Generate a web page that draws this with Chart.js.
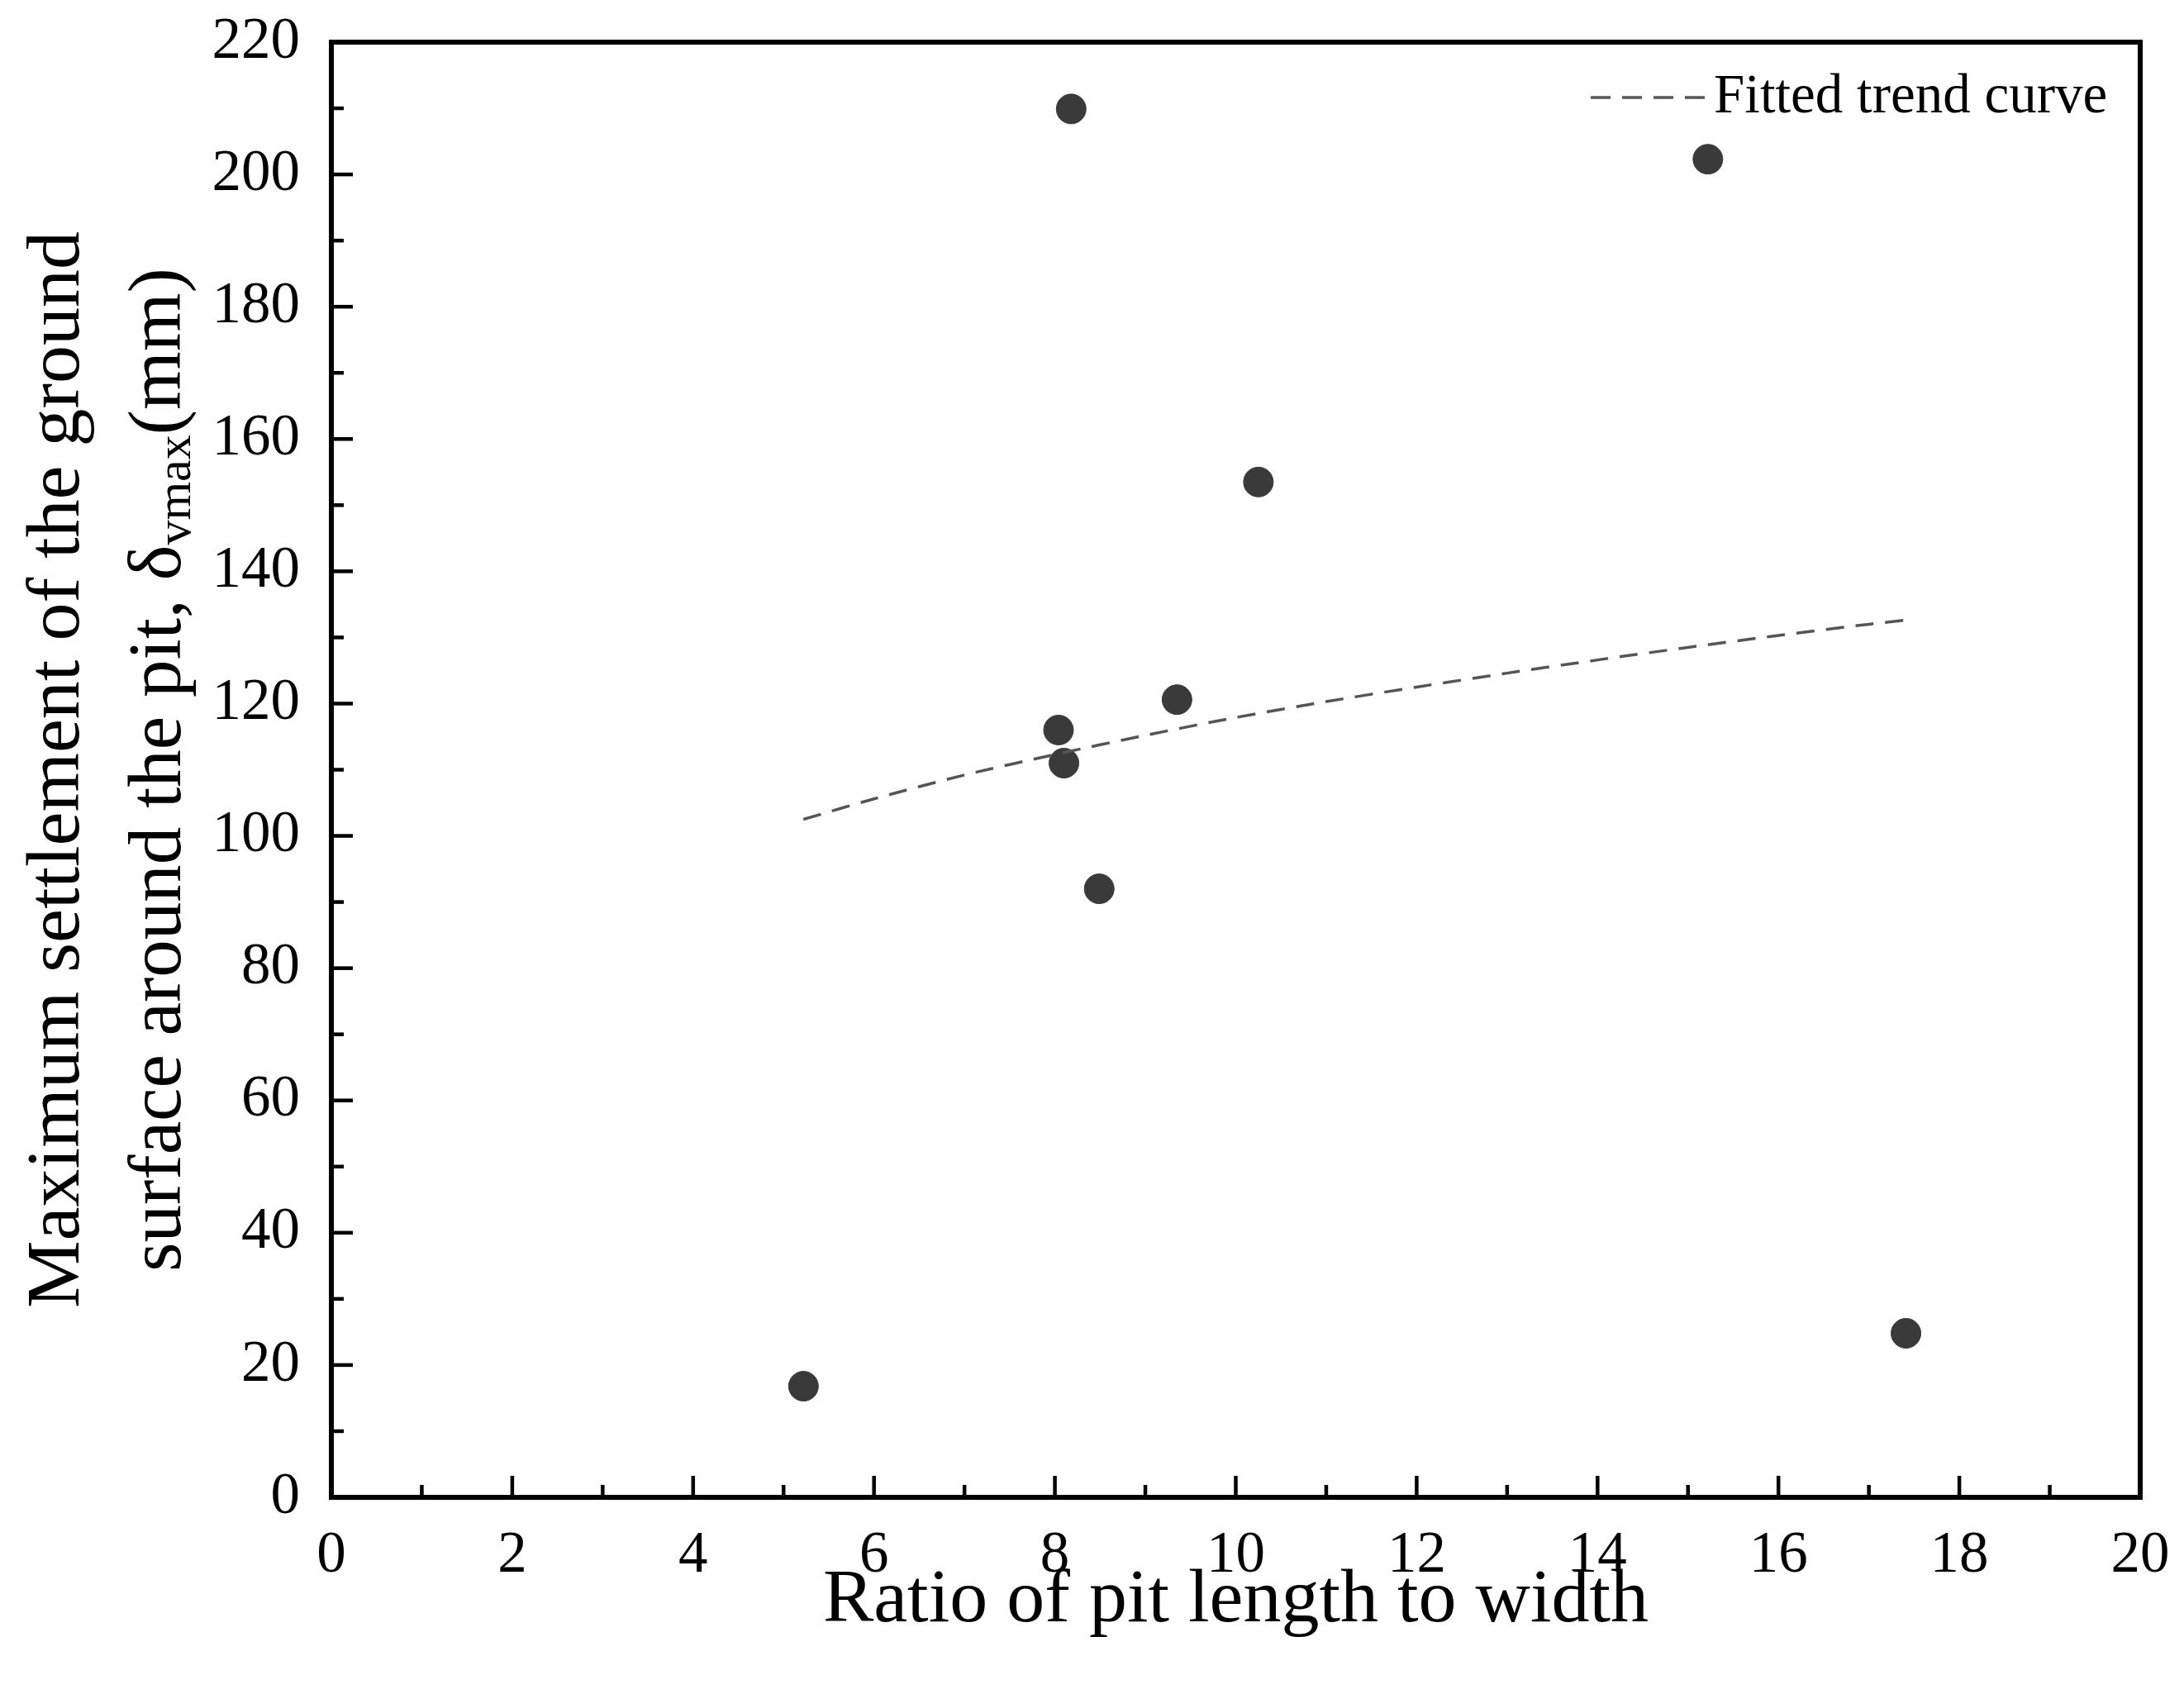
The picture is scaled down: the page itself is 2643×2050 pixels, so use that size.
<!DOCTYPE html>
<html><head><meta charset="utf-8">
<script src="https://cdn.jsdelivr.net/npm/chart.js@4"></script>
<style>html,body{margin:0;padding:0;background:#fff}</style>
</head><body>
<canvas id="c" width="2643" height="2050"></canvas>
<script>
const ratioX = [5.22, 8.18, 15.22, 10.25, 9.35, 8.04, 8.10, 8.49, 17.41];
const settlementY = [16.8, 209.9, 202.3, 153.5, 120.6, 116.0, 111.0, 92.0, 24.8];
const trendX = [5.22, 6, 7, 8, 9, 10, 11, 12, 13, 14, 15, 16, 17, 17.4];
const trendY = [102.5, 105.6, 109.2, 112.3, 115.2, 117.9, 120.3, 122.5, 124.6, 126.6, 128.5, 130.3, 132.0, 132.6];
const xTicks = [0, 2, 4, 6, 8, 10, 12, 14, 16, 18, 20];
const yTicks = [0, 20, 40, 60, 80, 100, 120, 140, 160, 180, 200, 220];
const FONT = '"Liberation Serif", "Times New Roman", serif';
const L = 401, R = 2590, T = 51, B = 1812, W = 2643, H = 2050;

const deco = {
  id: 'deco',
  afterDraw(chart) {
    const ctx = chart.ctx, a = chart.chartArea, xs = chart.scales.x, ys = chart.scales.y;
    ctx.save();
    ctx.strokeStyle = '#000'; ctx.lineWidth = 6;
    ctx.strokeRect(a.left, a.top, a.right - a.left, a.bottom - a.top);
    ctx.lineWidth = 4.5;
    for (let v = 1; v < 20; v++) {
      const p = xs.getPixelForValue(v), len = v % 2 === 0 ? 26 : 15;
      ctx.beginPath(); ctx.moveTo(p, a.bottom); ctx.lineTo(p, a.bottom - len); ctx.stroke();
    }
    for (let v = 10; v < 220; v += 10) {
      const p = ys.getPixelForValue(v), len = v % 20 === 0 ? 26 : 15;
      ctx.beginPath(); ctx.moveTo(a.left, p); ctx.lineTo(a.left + len, p); ctx.stroke();
    }
    ctx.fillStyle = '#000';
    ctx.font = '71px ' + FONT;
    ctx.textAlign = 'center'; ctx.textBaseline = 'top';
    xTicks.forEach(v => ctx.fillText(String(v), xs.getPixelForValue(v), a.bottom + 36));
    ctx.textAlign = 'right'; ctx.textBaseline = 'middle';
    yTicks.forEach(v => ctx.fillText(String(v), a.left - 38, ys.getPixelForValue(v)));
    // x title
    ctx.font = '92px ' + FONT; ctx.textAlign = 'center'; ctx.textBaseline = 'middle';
    ctx.fillText('Ratio of pit length to width', (a.left + a.right) / 2, 1938);
    // y title
    const cy = (a.top + a.bottom) / 2;
    ctx.save(); ctx.translate(71, cy); ctx.rotate(-Math.PI / 2);
    ctx.fillText('Maximum settlement of the ground', 0, 0);
    ctx.restore();
    ctx.save(); ctx.translate(194, cy); ctx.rotate(-Math.PI / 2);
    const p1 = 'surface around the pit, δ', p2 = 'vmax', p3 = '(mm)';
    ctx.font = '91px ' + FONT; const w1 = ctx.measureText(p1).width, w3 = ctx.measureText(p3).width;
    ctx.font = '60px ' + FONT; const w2 = ctx.measureText(p2).width;
    let x0 = -(w1 + w2 + w3) / 2;
    ctx.textAlign = 'left';
    ctx.font = '91px ' + FONT; ctx.fillText(p1, x0, 0);
    ctx.font = '60px ' + FONT; ctx.fillText(p2, x0 + w1, 20);
    ctx.font = '91px ' + FONT; ctx.fillText(p3, x0 + w1 + w2, 0);
    ctx.restore();
    // legend
    ctx.strokeStyle = '#555'; ctx.lineWidth = 3.5; ctx.setLineDash([24, 14]);
    ctx.beginPath(); ctx.moveTo(1925, 118); ctx.lineTo(2074, 118); ctx.stroke();
    ctx.setLineDash([]);
    ctx.font = '67px ' + FONT; ctx.textAlign = 'left'; ctx.textBaseline = 'middle';
    ctx.fillText('Fitted trend curve', 2074, 118);
    ctx.restore();
  }
};

new Chart(document.getElementById('c'), {
  type: 'scatter',
  data: { datasets: [
    { data: trendX.map((x, i) => ({x, y: trendY[i]})), showLine: true, borderColor: '#555',
      borderWidth: 3.5, borderDash: [22, 14], pointRadius: 0, tension: 0.3, fill: false },
    { data: ratioX.map((x, i) => ({x, y: settlementY[i]})), pointRadius: 18,
      backgroundColor: '#3a3a3a', borderColor: '#3a3a3a', pointHoverRadius: 18 }
  ]},
  options: {
    responsive: false, animation: false, devicePixelRatio: 1,
    layout: { padding: { left: 0, top: T, right: W - R, bottom: 0 } },
    plugins: { legend: { display: false }, tooltip: { enabled: false } },
    scales: {
      x: { type: 'linear', min: 0, max: 20, grid: { display: false }, border: { display: false },
           ticks: { display: false }, afterFit(s) { s.height = H - B; } },
      y: { type: 'linear', min: 0, max: 220, grid: { display: false }, border: { display: false },
           ticks: { display: false }, afterFit(s) { s.width = L; } }
    }
  },
  plugins: [deco]
});
</script>
</body></html>
